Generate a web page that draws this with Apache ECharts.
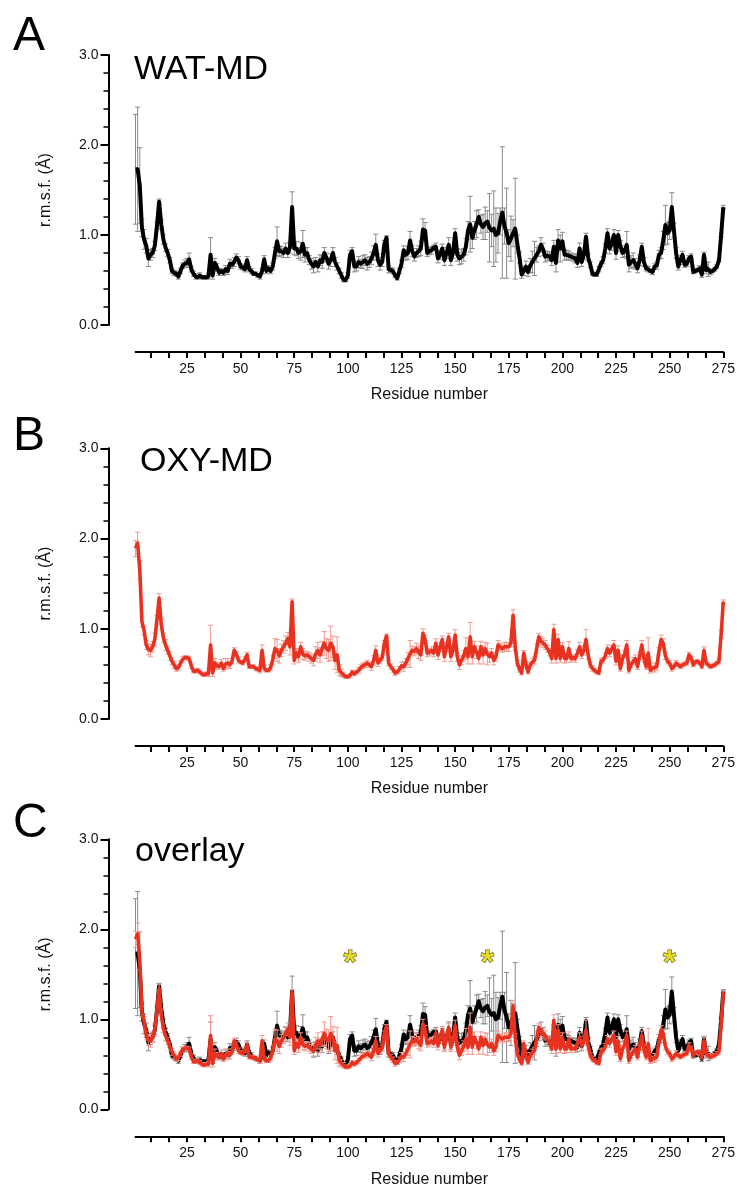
<!DOCTYPE html>
<html>
<head>
<meta charset="utf-8">
<script src="https://cdn.jsdelivr.net/npm/echarts@6/dist/echarts.min.js"></script>
<style>
html,body{margin:0;padding:0;background:#fff;}
#chart{width:739px;height:1189px;}
</style>
</head>
<body>
<div id="chart"></div>
<script>
// ---- Data ----
// r.m.s.f. per residue (residues 1..275)
const watRmsf = [
1.73,1.73,1.55,1.08,0.95,0.88,0.74,0.78,0.80,0.88,
1.10,1.37,1.12,0.95,0.86,0.80,0.72,0.60,0.58,0.57,
0.54,0.60,0.66,0.68,0.69,0.73,0.62,0.57,0.54,0.53,
0.55,0.53,0.53,0.53,0.54,0.78,0.55,0.69,0.64,0.58,
0.60,0.58,0.62,0.60,0.68,0.67,0.70,0.75,0.72,0.65,
0.64,0.62,0.72,0.62,0.60,0.57,0.57,0.55,0.54,0.60,
0.73,0.60,0.63,0.60,0.65,0.80,0.93,0.82,0.82,0.80,
0.85,0.80,0.86,1.31,0.85,0.85,0.80,0.82,0.90,0.78,
0.80,0.72,0.68,0.65,0.70,0.65,0.72,0.70,0.80,0.75,
0.68,0.72,0.80,0.70,0.65,0.60,0.55,0.50,0.50,0.55,
0.78,0.82,0.65,0.65,0.70,0.68,0.70,0.72,0.68,0.70,
0.74,0.80,0.89,0.72,0.67,0.70,0.90,0.97,0.62,0.61,
0.60,0.55,0.52,0.60,0.68,0.83,0.78,0.80,0.94,0.82,
0.76,0.80,0.82,0.85,1.06,1.05,0.80,0.82,0.83,0.86,
0.87,0.74,0.78,0.85,0.72,0.80,0.89,0.72,0.80,1.02,
0.78,0.74,0.76,0.78,0.87,1.05,1.12,0.97,1.05,1.12,
1.20,1.12,1.09,1.13,1.15,1.08,1.05,1.07,1.00,1.02,
1.15,1.25,1.10,1.02,0.91,0.96,1.02,1.07,0.90,0.75,
0.56,0.60,0.65,0.59,0.66,0.70,0.74,0.78,0.82,0.89,
0.84,0.76,0.77,0.76,0.72,0.87,0.69,0.94,0.85,0.93,
0.78,0.78,0.77,0.76,0.75,0.74,0.69,0.85,0.70,0.78,
0.98,0.75,0.67,0.57,0.56,0.56,0.62,0.68,0.72,0.85,
1.02,0.85,0.90,1.00,0.80,1.00,0.88,0.80,0.82,0.89,
0.67,0.70,0.72,0.68,0.63,0.72,0.87,0.70,0.63,0.62,
0.60,0.59,0.65,0.66,0.78,0.80,0.94,1.11,1.02,1.05,
1.31,1.05,0.80,0.65,0.72,0.78,0.67,0.68,0.74,0.76,
0.59,0.60,0.61,0.63,0.56,0.78,0.61,0.62,0.59,0.60,
0.62,0.65,0.72,1.00,1.31
];
const watErr = [
0.61,0.69,0.42,0.10,0.11,0.08,0.09,0.06,0.05,0.05,
0.04,0.03,0.05,0.05,0.04,0.04,0.03,0.03,0.03,0.03,
0.03,0.03,0.03,0.04,0.05,0.07,0.03,0.03,0.03,0.02,
0.03,0.02,0.02,0.02,0.03,0.19,0.04,0.05,0.04,0.03,
0.03,0.03,0.04,0.04,0.05,0.04,0.05,0.04,0.04,0.03,
0.03,0.03,0.04,0.03,0.03,0.02,0.02,0.02,0.03,0.03,
0.04,0.03,0.03,0.03,0.04,0.06,0.16,0.06,0.05,0.05,
0.06,0.05,0.06,0.17,0.07,0.08,0.06,0.10,0.15,0.08,
0.06,0.05,0.06,0.07,0.05,0.06,0.06,0.07,0.06,0.05,
0.06,0.07,0.06,0.05,0.04,0.03,0.03,0.02,0.02,0.03,
0.05,0.04,0.06,0.05,0.06,0.05,0.07,0.06,0.07,0.06,
0.07,0.08,0.12,0.07,0.06,0.05,0.04,0.02,0.04,0.03,
0.03,0.02,0.02,0.03,0.04,0.05,0.06,0.07,0.10,0.06,
0.05,0.05,0.06,0.08,0.12,0.09,0.04,0.04,0.04,0.03,
0.04,0.05,0.05,0.05,0.06,0.06,0.08,0.06,0.06,0.05,
0.07,0.07,0.08,0.07,0.09,0.10,0.31,0.12,0.10,0.15,
0.08,0.10,0.14,0.18,0.12,0.38,0.18,0.42,0.30,0.22,
0.15,0.73,0.20,0.50,0.15,0.25,0.15,0.56,0.10,0.06,
0.04,0.05,0.06,0.05,0.08,0.12,0.19,0.08,0.06,0.08,
0.07,0.06,0.05,0.05,0.06,0.07,0.10,0.12,0.15,0.10,
0.06,0.05,0.05,0.04,0.04,0.05,0.05,0.06,0.05,0.05,
0.04,0.04,0.03,0.02,0.02,0.02,0.03,0.03,0.04,0.05,
0.05,0.06,0.07,0.06,0.07,0.05,0.06,0.05,0.06,0.15,
0.08,0.07,0.08,0.06,0.05,0.06,0.04,0.05,0.03,0.03,
0.02,0.03,0.03,0.04,0.05,0.06,0.10,0.22,0.12,0.10,
0.16,0.08,0.06,0.04,0.05,0.04,0.03,0.03,0.03,0.03,
0.02,0.02,0.02,0.03,0.03,0.03,0.04,0.08,0.03,0.02,
0.02,0.02,0.02,0.02,0.02
];
const oxyRmsf = [
1.89,1.95,1.65,1.08,0.98,0.82,0.77,0.76,0.80,0.88,
1.10,1.34,1.05,0.90,0.82,0.76,0.70,0.64,0.60,0.56,
0.57,0.62,0.66,0.68,0.68,0.67,0.59,0.53,0.53,0.54,
0.52,0.50,0.49,0.50,0.50,0.82,0.51,0.62,0.59,0.58,
0.62,0.56,0.61,0.62,0.60,0.64,0.76,0.72,0.65,0.63,
0.62,0.66,0.71,0.58,0.58,0.58,0.56,0.55,0.54,0.76,
0.56,0.54,0.54,0.57,0.66,0.78,0.76,0.70,0.76,0.80,
0.84,0.89,0.80,1.30,0.65,0.73,0.69,0.80,0.72,0.70,
0.71,0.69,0.67,0.65,0.72,0.76,0.71,0.78,0.84,0.78,
0.76,0.84,0.80,0.65,0.71,0.54,0.51,0.49,0.47,0.47,
0.48,0.52,0.50,0.52,0.54,0.57,0.59,0.60,0.62,0.60,
0.58,0.65,0.76,0.62,0.65,0.68,0.84,0.92,0.62,0.58,
0.55,0.51,0.52,0.55,0.59,0.58,0.62,0.67,0.72,0.76,
0.75,0.78,0.74,0.71,0.95,0.88,0.73,0.74,0.76,0.73,
0.84,0.71,0.80,0.88,0.69,0.80,0.91,0.69,0.76,0.93,
0.69,0.60,0.65,0.70,0.78,0.69,0.91,0.69,0.80,0.74,
0.67,0.80,0.71,0.78,0.72,0.69,0.73,0.65,0.69,0.82,
0.80,0.78,0.80,0.80,0.80,0.84,1.15,0.80,0.62,0.55,
0.51,0.73,0.60,0.52,0.60,0.63,0.65,0.78,0.91,0.86,
0.84,0.82,0.78,0.74,0.67,0.99,0.67,0.88,0.67,0.80,
0.67,0.67,0.78,0.67,0.68,0.67,0.73,0.80,0.71,0.76,
0.88,0.71,0.60,0.56,0.54,0.52,0.51,0.64,0.65,0.70,
0.78,0.73,0.78,0.82,0.64,0.76,0.56,0.67,0.72,0.82,
0.54,0.60,0.64,0.67,0.58,0.70,0.82,0.67,0.58,0.73,
0.54,0.56,0.57,0.58,0.75,0.88,0.84,0.70,0.64,0.62,
0.56,0.58,0.62,0.60,0.58,0.60,0.61,0.62,0.71,0.68,
0.60,0.63,0.64,0.62,0.58,0.76,0.62,0.60,0.58,0.59,
0.60,0.62,0.64,0.94,1.30
];
const oxyErr = [
0.09,0.12,0.10,0.06,0.05,0.05,0.06,0.07,0.06,0.07,
0.05,0.05,0.06,0.05,0.06,0.04,0.05,0.04,0.04,0.03,
0.03,0.03,0.03,0.02,0.02,0.02,0.03,0.02,0.02,0.02,
0.02,0.02,0.02,0.02,0.03,0.22,0.04,0.05,0.04,0.03,
0.04,0.03,0.06,0.05,0.04,0.03,0.03,0.03,0.03,0.02,
0.02,0.03,0.03,0.02,0.02,0.02,0.02,0.02,0.03,0.06,
0.03,0.02,0.02,0.03,0.05,0.11,0.12,0.08,0.07,0.07,
0.08,0.07,0.09,0.03,0.04,0.05,0.06,0.05,0.06,0.05,
0.04,0.05,0.05,0.06,0.08,0.09,0.08,0.08,0.13,0.11,
0.12,0.19,0.12,0.10,0.20,0.06,0.04,0.03,0.02,0.02,
0.02,0.02,0.02,0.02,0.03,0.03,0.03,0.03,0.03,0.03,
0.04,0.05,0.05,0.04,0.03,0.03,0.03,0.02,0.03,0.03,
0.03,0.03,0.02,0.03,0.04,0.05,0.05,0.07,0.15,0.05,
0.05,0.06,0.07,0.06,0.05,0.05,0.04,0.04,0.04,0.04,
0.05,0.05,0.05,0.04,0.05,0.05,0.04,0.05,0.05,0.06,
0.05,0.05,0.05,0.06,0.12,0.08,0.16,0.08,0.06,0.07,
0.06,0.06,0.10,0.07,0.12,0.06,0.05,0.05,0.05,0.05,
0.04,0.04,0.05,0.05,0.05,0.04,0.06,0.04,0.03,0.03,
0.02,0.03,0.03,0.02,0.03,0.04,0.04,0.05,0.04,0.05,
0.05,0.05,0.04,0.04,0.05,0.06,0.05,0.06,0.04,0.05,
0.05,0.04,0.08,0.04,0.03,0.04,0.04,0.05,0.04,0.05,
0.11,0.05,0.03,0.03,0.02,0.02,0.02,0.03,0.03,0.03,
0.04,0.04,0.04,0.05,0.04,0.05,0.03,0.04,0.04,0.05,
0.03,0.03,0.04,0.04,0.03,0.04,0.05,0.04,0.03,0.17,
0.03,0.03,0.05,0.04,0.04,0.05,0.05,0.04,0.03,0.03,
0.03,0.03,0.03,0.02,0.02,0.02,0.02,0.02,0.03,0.02,
0.02,0.02,0.02,0.02,0.02,0.04,0.02,0.02,0.02,0.02,
0.02,0.02,0.03,0.04,0.02
];
const firstResidue = 1;
const lastResidue = 275;
const xTickLabels = [25, 50, 75, 100, 125, 150, 175, 200, 225, 250, 275];
const xTickStep = 25 / 3;            // ticks every third of 25 residues
const asteriskResidues = [101, 165, 250];
const asteriskLevel = 1.71;
const panelLetters = ['A', 'B', 'C'];
const panelTitles = ['WAT-MD', 'OXY-MD', 'overlay'];
const yAxisTitle = 'r.m.s.f. (Å)';
const xAxisTitle = 'Residue number';

// ---- Build ----
const FONT = "'Liberation Sans', Arial, 'Helvetica Neue', sans-serif";
const BLACK = '#000000';
const RED = '#e8321f';
const GRAY_ERR = '#8a8a8a';
const PINK_ERR = '#f29a90';

function pairs(vals, errs) {
  return vals.map((v, i) => [firstResidue + i, v, errs[i]]);
}
const watData = pairs(watRmsf, watErr);
const oxyData = pairs(oxyRmsf, oxyErr);

const tickValues = [];
for (let k = 1; k * xTickStep <= lastResidue + 1e-6; k++) tickValues.push(+(k * xTickStep).toFixed(4));

const gridTops = [55, 448.3, 839.3];
const gridH = [270, 270.7, 270];
const grids = gridTops.map((t, i) => ({
  left: 135.5, width: 587.8, top: t, height: gridH[i], containLabel: false
}));

function xAxisFor(i) {
  return {
    type: 'value', gridIndex: i, min: firstResidue, max: lastResidue,
    offset: 27,
    name: xAxisTitle, nameLocation: 'middle', nameGap: 35,
    nameTextStyle: { fontFamily: FONT, fontSize: 16, color: '#111' },
    axisLine: { show: true, onZero: false, lineStyle: { color: BLACK, width: 2 } },
    axisTick: { show: true, length: 6, customValues: tickValues, lineStyle: { color: BLACK, width: 2 } },
    axisLabel: { show: true, customValues: xTickLabels, margin: 10, fontFamily: FONT, fontSize: 14, color: '#111' },
    splitLine: { show: false }, minorTick: { show: false }
  };
}
function yAxisFor(i) {
  return {
    type: 'value', gridIndex: i, min: 0, max: 3, interval: 1,
    offset: 27,
    name: yAxisTitle, nameLocation: 'middle', nameGap: 55,
    nameTextStyle: { fontFamily: FONT, fontSize: 16, color: '#111' },
    axisLine: { show: true, onZero: false, lineStyle: { color: BLACK, width: 2 } },
    axisTick: { show: true, length: 8, lineStyle: { color: BLACK, width: 2 } },
    minorTick: { show: true, splitNumber: 5, length: 5, lineStyle: { color: BLACK, width: 1.5 } },
    axisLabel: { margin: 10, fontFamily: FONT, fontSize: 14, color: '#111',
      formatter: v => v.toFixed(1) },
    splitLine: { show: false }, minorSplitLine: { show: false }
  };
}

function errSeries(idx, data, color, z) {
  return {
    type: 'custom', xAxisIndex: idx, yAxisIndex: idx, data: data, silent: true,
    encode: { x: 0, y: 1 },
    renderItem: function (params, api) {
      const x = api.value(0), y = api.value(1), e = api.value(2);
      const top = api.coord([x, y + e]);
      const bot = api.coord([x, y - e]);
      const h = 2.5;
      const st = { stroke: color, lineWidth: 1 };
      return {
        type: 'group', children: [
          { type: 'line', shape: { x1: top[0], y1: top[1], x2: bot[0], y2: bot[1] }, style: st },
          { type: 'line', shape: { x1: top[0] - h, y1: top[1], x2: top[0] + h, y2: top[1] }, style: st },
          { type: 'line', shape: { x1: bot[0] - h, y1: bot[1], x2: bot[0] + h, y2: bot[1] }, style: st }
        ]
      };
    },
    z: z
  };
}
function lineSeries(idx, data, color, width, z) {
  return {
    type: 'line', xAxisIndex: idx, yAxisIndex: idx, data: data.map(d => [d[0], d[1]]),
    showSymbol: false, symbol: 'none', silent: true,
    lineStyle: { color: color, width: width, join: 'round' },
    itemStyle: { color: color }, z: z
  };
}

const series = [
  errSeries(0, watData, GRAY_ERR, 1), lineSeries(0, watData, BLACK, 4, 2),
  errSeries(1, oxyData, PINK_ERR, 1), lineSeries(1, oxyData, RED, 3.6, 2),
  errSeries(2, watData, GRAY_ERR, 1), lineSeries(2, watData, BLACK, 4, 2),
  errSeries(2, oxyData, PINK_ERR, 3), lineSeries(2, oxyData, RED, 3.6, 4),
  {
    type: 'scatter', xAxisIndex: 2, yAxisIndex: 2, silent: true, z: 5,
    data: asteriskResidues.map(r => [r, asteriskLevel]),
    symbolSize: 2, itemStyle: { color: 'rgba(0,0,0,0)' },
    label: { show: true, position: 'inside', formatter: '*', offset: [0, 8],
      fontFamily: FONT, fontSize: 34, fontWeight: 'bold', color: '#e3d400',
      textBorderColor: '#3a3a00', textBorderWidth: 1 }
  }
];

const letterY = [37, 437, 824];
const titleY = [72, 464, 854];
const titleX = [134, 140, 135];
const graphic = [];
panelLetters.forEach((L, i) => graphic.push({
  type: 'text', left: 13, top: letterY[i] - 24,
  style: { text: L, font: '48px ' + FONT, fill: '#000' }
}));
panelTitles.forEach((T, i) => graphic.push({
  type: 'text', left: titleX[i], top: titleY[i] - 19,
  style: { text: T, font: '34px ' + FONT, fill: '#000' }
}));

const chart = echarts.init(document.getElementById('chart'), null, { renderer: 'canvas' });
chart.setOption({
  animation: false,
  backgroundColor: '#ffffff',
  textStyle: { fontFamily: FONT },
  grid: grids,
  xAxis: [0, 1, 2].map(xAxisFor),
  yAxis: [0, 1, 2].map(yAxisFor),
  series: series,
  graphic: graphic
});
</script>
</body>
</html>
